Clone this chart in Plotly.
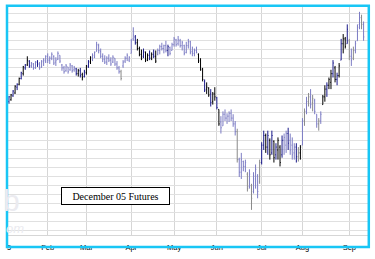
import plotly.graph_objects as go

# Trading-day index of each month start (x axis is a trading-day axis)
month_labels = ["5", "Feb", "Mar", "Apr", "May", "Jun", "Jul", "Aug", "Sep"]
month_start_bar = [1.0, 20, 39, 61, 82, 103, 125, 145, 168]

bar_index = list(range(1, 176))

high = [151,153,157,162,164,170,176,182,184,192,188,186,185,187,188,186,188,190,193,
        195,192,196,193,191,197,193,184,182,184,181,185,183,182,180,179,180,175,178,
        183,188,192,195,197,207,205,200,195,193,192,194,191,193,190,187,182,178,188,192,195,192,
        210,222,214,210,202,199,200,197,195,198,196,199,198,200,204,206,204,208,204,202,206,
        212,210,213,210,208,204,207,210,208,202,200,202,195,190,180,168,165,160,158,155,160,
        150,137,130,135,137,133,135,137,132,125,117,87,92,84,85,72,75,60,72,80,70,85,
        103,115,112,115,107,115,105,102,108,100,110,112,115,118,112,108,102,102,98,100,
        128,138,150,154,158,152,148,132,128,135,152,162,165,170,178,188,182,175,185,210,215,212,225,
        210,200,202,208,225,238,235,228]

low = [143,146,150,153,157,162,168,172,178,182,180,180,178,179,181,178,180,182,185,
       185,184,188,183,182,188,185,177,174,176,174,177,175,176,172,171,170,167,170,
       173,180,184,187,190,197,195,190,186,184,183,186,182,185,182,178,174,167,180,185,187,186,
       195,208,204,198,192,188,190,186,187,188,188,190,185,193,194,198,195,196,192,193,198,
       202,202,203,201,198,193,195,200,194,192,192,195,185,177,166,155,153,150,140,142,146,
       137,120,112,120,125,122,124,125,119,110,82,67,65,73,72,52,55,33,50,55,45,60,
       80,95,92,90,85,90,82,85,85,78,87,90,92,95,90,85,85,82,83,85,
       100,120,132,140,138,135,132,118,115,122,142,145,150,158,158,170,165,162,170,188,195,200,205,
       188,182,188,195,208,220,220,208]

open_ = [145,147,151,154,160,163,169,174,180,183,187,182,184,180,186,184,181,186,187,
         192,188,190,192,186,189,193,183,180,177,181,178,182,178,179,174,177,173,171,
         175,181,186,189,191,197,203,197,192,189,186,190,188,186,190,184,180,176,182,187,190,188,
         195,210,212,206,200,194,192,196,188,193,190,194,192,194,198,202,200,203,198,201,198,
         204,209,205,208,203,203,196,203,207,197,195,198,194,188,179,166,158,159,153,145,153,
         149,137,124,120,132,128,130,133,128,122,114,85,72,83,78,70,57,58,52,65,68,62,
         82,100,110,98,105,92,104,90,95,98,90,105,100,112,105,100,92,98,88,92,
         100,125,135,145,150,144,146,132,122,125,142,150,158,162,165,174,180,168,172,188,205,210,205,
         208,192,190,198,208,225,232,225]

close = [150,152,156,161,163,169,175,181,183,188,182,185,180,186,184,180,187,188,192,
         188,190,194,185,188,195,187,180,176,182,176,183,177,180,174,177,172,170,176,
         182,187,191,193,196,204,198,192,189,186,190,188,184,191,184,180,176,169,186,190,193,191,
         208,214,206,200,194,190,197,188,193,190,194,192,187,198,202,200,203,198,202,195,204,
         210,204,209,203,206,195,203,207,196,195,198,196,187,178,168,157,160,152,144,153,150,
         139,122,118,132,128,130,133,128,122,114,85,72,85,78,82,55,70,45,68,75,52,82,
         100,110,98,110,90,110,87,98,105,82,105,108,112,102,95,90,98,88,92,98,
         125,135,145,150,142,148,135,122,125,132,150,158,162,168,174,185,168,172,182,205,210,202,220,
         192,188,198,205,222,232,225,212]

# bar shade per bar (style): B black, N navy, L lavender, G gray
bar_shade = ("NBNBNBNBNB" "NLLLNLLLLLLLLLLL" "LLLLLLLNBNBN" "BNB" + "L" * 14 + "GLLLL"
             "LLNBBBNBBNBNB" "LLLLLNLL" + "L" * 12 + "BBBNBBNBBN" "B" + "L" * 8 +
             "GLLLLGLGLLLG" "NNBNBNBNBBNLLNLLLNGBL" "GLGLGLLGL" "BBNBBNBNBNBBN" "GLGLLLGL")

shade_colors = {"B": "#000000", "N": "#1a1a8a", "L": "#7c7cc4", "G": "#8a8a8a"}

fig = go.Figure()
for key, col in shade_colors.items():
    idx = [k for k, s in enumerate(bar_shade) if s == key]
    fig.add_trace(go.Ohlc(
        x=[bar_index[k] for k in idx],
        open=[open_[k] for k in idx],
        high=[high[k] for k in idx],
        low=[low[k] for k in idx],
        close=[close[k] for k in idx],
        increasing=dict(line=dict(color=col, width=1)),
        decreasing=dict(line=dict(color=col, width=1)),
        tickwidth=0.35,
        showlegend=False,
        hoverinfo="skip",
    ))

# faint watermark
fig.add_annotation(xref="paper", yref="paper", x=-0.02, y=0.07, text="b",
                   showarrow=False, xanchor="left", yanchor="bottom",
                   font=dict(family="Liberation Sans", size=30, color="#ebebf0"))
fig.add_annotation(xref="paper", yref="paper", x=-0.012, y=0.07, text="<i>om</i>",
                   showarrow=False, xanchor="left", yanchor="top",
                   font=dict(family="Liberation Sans", size=13, color="#ebebf0"))

fig.add_annotation(xref="paper", yref="paper", x=0.2986, y=0.173,
                   text="December 05 Futures", showarrow=False,
                   xanchor="center", yanchor="middle",
                   width=105, height=14, borderpad=1,
                   bordercolor="#000000", borderwidth=1, bgcolor="#ffffff",
                   font=dict(family="Liberation Serif", size=10, color="#000000"))

# cyan frame around the chart
fig.add_shape(type="rect", xref="paper", yref="paper",
              x0=(7 - 8) / 360, x1=(368.8 - 8) / 360,
              y0=(243 - 255.5) / 236, y1=(243 - 5.8) / 236,
              line=dict(color="#18c6f5", width=2.5), layer="above")

fig.update_layout(
    width=375, height=259,
    margin=dict(l=8, r=7, t=7, b=16),
    paper_bgcolor="#ffffff", plot_bgcolor="#ffffff",
    showlegend=False,
    xaxis=dict(range=[0.52, 177.17], tickmode="array",
               tickvals=month_start_bar, ticktext=month_labels,
               showgrid=True, gridcolor="#d6d6d6", gridwidth=1,
               ticks="", ticklen=0, zeroline=False, ticklabelstandoff=5,
               showline=True, linecolor="#d6d6d6", linewidth=1,
               tickfont=dict(family="Liberation Sans", size=7.5, color="#000000"),
               rangeslider=dict(visible=False), fixedrange=True),
    yaxis=dict(range=[7, 243], tick0=11.3, dtick=9.39,
               showgrid=True, gridcolor="#e0e0e0", gridwidth=1,
               showticklabels=False, ticks="", zeroline=False,
               fixedrange=True),
)

fig.write_html("out.html")
